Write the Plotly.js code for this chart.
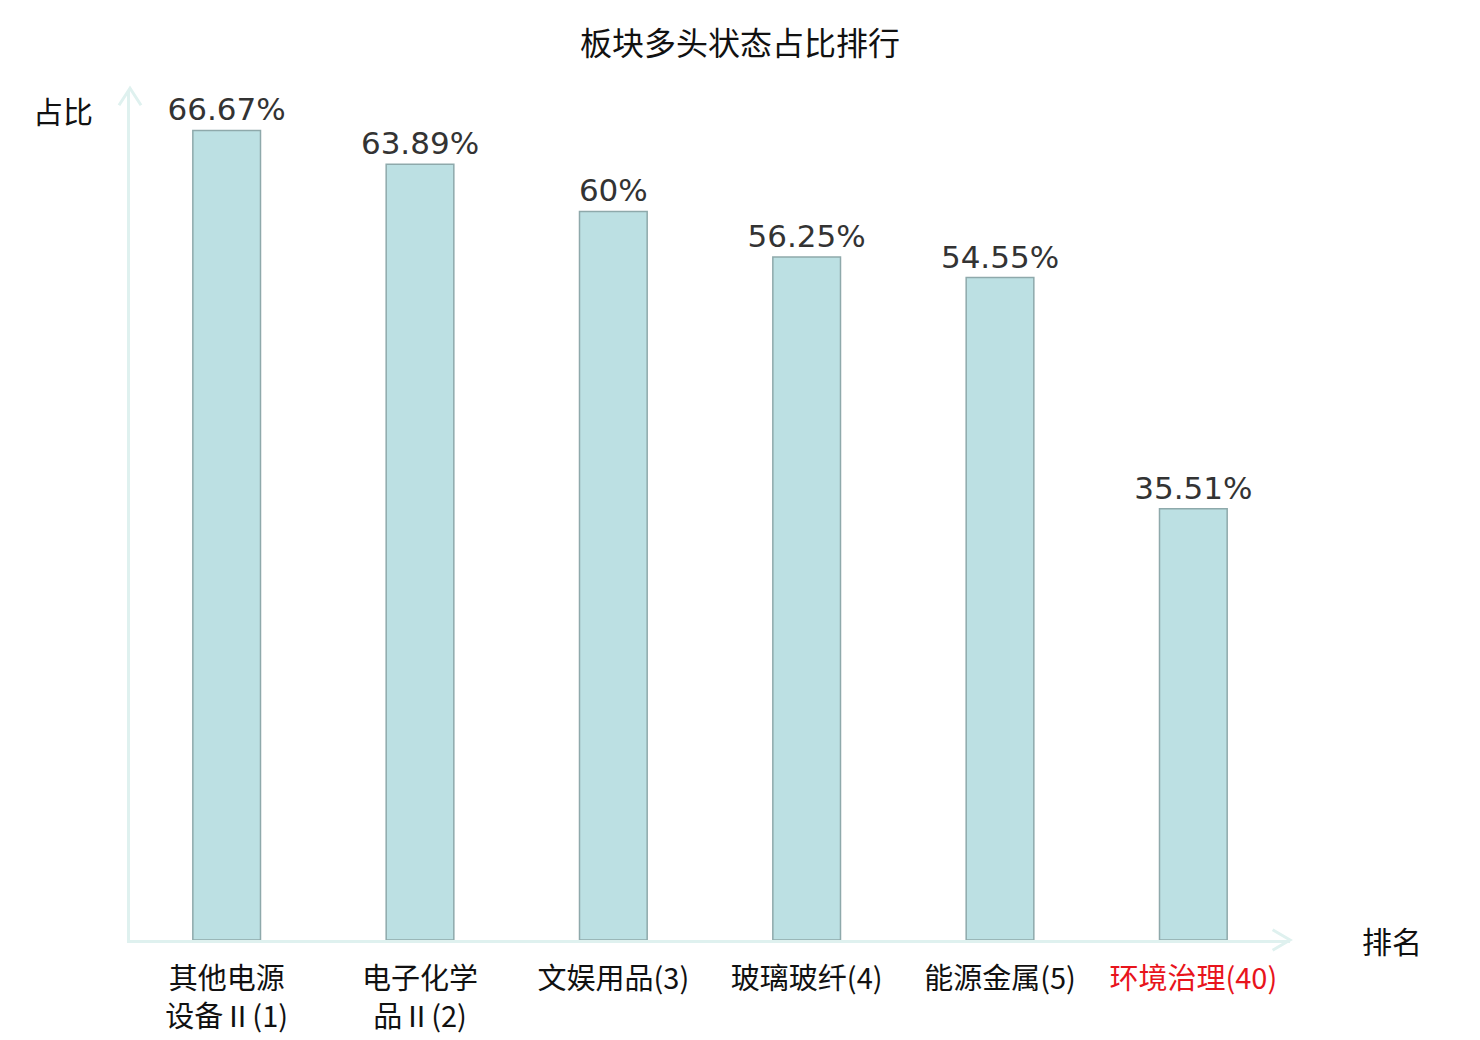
<!DOCTYPE html>
<html>
<head>
<meta charset="utf-8">
<script src="https://cdn.plot.ly/plotly-3.0.1.min.js"></script>
<style>
  html, body { margin: 0; padding: 0; background: #fff; }
  #plot { width: 1480px; height: 1040px; }
</style>
</head>
<body>
<div id="plot"></div>
<script>
// sectors, ranked by share of long state
var sectors = ['其他电源设备Ⅱ', '电子化学品Ⅱ', '文娱用品', '玻璃玻纤', '能源金属', '环境治理'];
var ranks = [1, 2, 3, 4, 5, 40];
var shares = [66.67, 63.89, 60, 56.25, 54.55, 35.51];
var tickText = [
  '其他电源<br>设备Ⅱ(1)',
  '电子化学<br>品Ⅱ(2)',
  '文娱用品(3)',
  '玻璃玻纤(4)',
  '能源金属(5)',
  '<span style="color:#e8141c">环境治理(40)</span>'
];

var axisColor = '#dff1ef';
var cjk = 'Noto Sans CJK SC, DejaVu Sans, sans-serif';

var trace = {
  type: 'bar',
  x: sectors.map(function (s, i) { return i; }),
  y: shares,
  width: 0.35,
  text: shares.map(function (v) { return v + '%'; }),
  textposition: 'outside',
  constraintext: 'none',
  cliponaxis: false,
  textfont: { family: 'DejaVu Sans, sans-serif', size: 31, color: '#333333' },
  marker: { color: '#bce0e3', line: { color: '#8ea9ab', width: 1.5 } },
  hoverinfo: 'none'
};

var layout = {
  width: 1480,
  height: 1040,
  margin: { l: 130, r: 190, t: 90, b: 100 },
  paper_bgcolor: '#ffffff',
  plot_bgcolor: '#ffffff',
  showlegend: false,
  title: {
    text: '板块多头状态占比排行',
    font: { family: cjk, size: 32, color: '#111111' },
    x: 0.5, xanchor: 'center', y: 0.969, yanchor: 'top'
  },
  xaxis: {
    range: [-0.5, 5.5],
    tickvals: sectors.map(function (s, i) { return i; }),
    ticktext: tickText,
    tickfont: { family: cjk, size: 29, color: '#111111' },
    showgrid: false, zeroline: false,
    showline: true, linecolor: axisColor, linewidth: 3,
    ticks: '', ticklabelstandoff: 11
  },
  yaxis: {
    range: [0, 70],
    showticklabels: false, showgrid: false, zeroline: false,
    showline: true, linecolor: axisColor, linewidth: 3,
    ticks: ''
  },
  shapes: [
    // y-axis arrow head
    { type: 'path', xref: 'paper', yref: 'paper', layer: 'above',
      path: 'M -0.0095,0.982 L 0,1.002 L 0.0095,0.982',
      line: { color: axisColor, width: 3 } },
    // x-axis arrow head
    { type: 'path', xref: 'paper', yref: 'paper', layer: 'above',
      path: 'M 0.985,0.012 L 1,0 L 0.985,-0.012',
      line: { color: axisColor, width: 3 } }
  ],
  annotations: [
    { text: '占比', xref: 'paper', yref: 'paper', x: -0.058, y: 0.976,
      xanchor: 'center', yanchor: 'middle', showarrow: false,
      font: { family: cjk, size: 30, color: '#111111' } },
    { text: '排名', xref: 'paper', yref: 'paper', x: 1.088, y: 0.0,
      xanchor: 'center', yanchor: 'middle', showarrow: false,
      font: { family: cjk, size: 30, color: '#111111' } }
  ]
};

Plotly.newPlot('plot', [trace], layout, { staticPlot: true });
</script>
</body>
</html>
